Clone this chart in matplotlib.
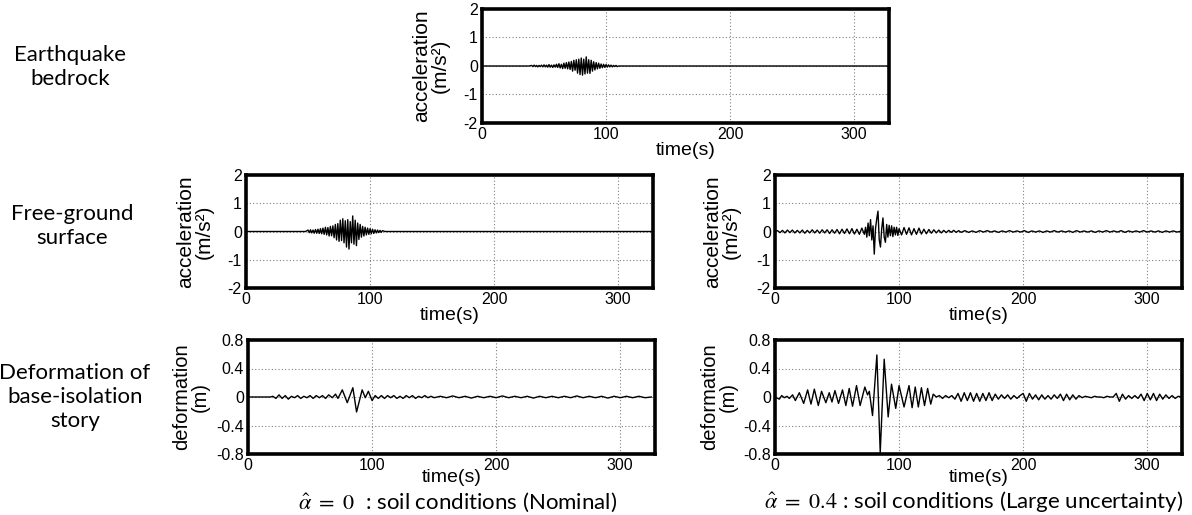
import matplotlib
matplotlib.use("Agg")
import matplotlib.pyplot as plt

plt.rcParams['font.family'] = ['Liberation Sans', 'DejaVu Sans']
plt.rcParams['axes.unicode_minus'] = False
plt.rcParams['mathtext.fontset'] = 'stix'

W, H = 1192, 515

# each signal: list of segments, (t0, dt, values) on a regular grid or (times, values)
bedrock_acc = [
    ([0, 38], [0.0, 0.0]),
    (40, 1.0, [0.02, -0.02, 0.03, -0.02, 0.02, -0.03, 0.02, -0.02, 0.03, -0.03,
               0.04, -0.03, 0.03, -0.04, 0.05, -0.04, 0.03, -0.05, 0.04, -0.04,
               0.06, -0.05, 0.08, -0.07, 0.06, -0.09, 0.10, -0.08, 0.12, -0.10,
               0.14, -0.12, 0.16, -0.18, 0.20, -0.15, 0.22, -0.25, 0.24, -0.30,
               0.28, -0.32, 0.24, -0.28, 0.32, -0.25, 0.22, -0.26, 0.20, -0.18,
               0.15, -0.14, 0.12, -0.10, 0.10, -0.08, 0.07, -0.06, 0.06, -0.05,
               0.05, -0.04, 0.04, -0.03, 0.03, -0.03, 0.02, -0.02, 0.02, -0.02]),
    ([110, 328], [0.0, 0.0]),
]

ground_acc_nominal = [
    ([0, 48], [0.0, 0.0]),
    (50, 1.0, [0.05, -0.04, 0.06, -0.05, 0.05, -0.06, 0.07, -0.06, 0.08, -0.07,
               0.10, -0.08, 0.12, -0.10, 0.15, -0.12, 0.14, -0.16, 0.18, -0.15,
               0.20, -0.22, 0.25, -0.30, 0.28, -0.35, 0.40, -0.32, 0.45, -0.40,
               0.38, -0.55, 0.42, -0.62, 0.35, -0.40, 0.55, -0.45, 0.40, -0.50,
               0.30, -0.28, 0.25, -0.20, 0.18, -0.16, 0.15, -0.12, 0.12, -0.10,
               0.10, -0.08, 0.08, -0.07, 0.06, -0.05, 0.05, -0.04, 0.04, -0.03, 0.03]),
    ([112, 328], [0.0, 0.0]),
]

ground_acc_large = [
    (0, 2.0, [0.0, 0.03, -0.04, 0.04, -0.05, 0.05, -0.04, 0.05, -0.05, 0.04,
              -0.05, 0.05, -0.06, 0.04, -0.05, 0.06, -0.05, 0.05, -0.06, 0.06,
              -0.05, 0.06, -0.07, 0.06, -0.06, 0.07, -0.08, 0.08, -0.07, 0.09,
              -0.08, 0.10, -0.09, 0.08, -0.10, 0.12]),
    (72, 1.0, [-0.10, 0.15, -0.20, 0.30, -0.15, 0.42, -0.30, 0.20, -0.80, 0.10,
               0.45, 0.72, -0.30, -0.55, 0.10, 0.48, -0.20, -0.38, 0.25, -0.20,
               0.22, -0.15, 0.20, -0.18, 0.15, -0.12, 0.15, -0.14, 0.10]),
    (102, 2.0, [-0.12, 0.14, -0.10, 0.13, -0.12, 0.10, -0.10, 0.12, -0.09, 0.08,
                -0.08, 0.07, -0.06, 0.06, -0.05, 0.05, -0.05, 0.04, -0.04, 0.04,
                -0.03, 0.04, -0.03, 0.03, -0.03]),
    (153, 3.0, [0.03, -0.03, 0.02, -0.03, 0.03, -0.02, 0.03, -0.02, 0.02, -0.03,
                0.02, -0.02, 0.03, -0.02, 0.02, -0.02, 0.03, -0.03, 0.02, -0.02,
                0.02, -0.03, 0.02, -0.02, 0.03, -0.02, 0.02, -0.02, 0.02, -0.03,
                0.03, -0.02, 0.02, -0.02, 0.02, -0.03, 0.02, -0.02, 0.03, -0.02,
                0.02, -0.02, 0.03, -0.03, 0.02, -0.02, 0.02, -0.02, 0.03, -0.02,
                0.02, -0.02, 0.02, -0.03, 0.02, -0.02, 0.02, -0.02, 0.01]),
]

deform_nominal = [
    ([0, 18], [0.0, 0.0]),
    (20, 2.5, [0.01, -0.02, 0.03, -0.02, 0.02, -0.03, 0.01, -0.01, 0.02, -0.02,
               0.01, -0.01, 0.02, -0.02, 0.02, -0.01, 0.02, -0.02, 0.03]),
    ([68, 70.5, 72.5, 76, 80, 84.5, 87.5, 92, 94.5, 97, 100, 102.5, 105],
     [-0.01, 0.04, -0.02, 0.10, -0.08, 0.13, -0.21, 0.10, -0.01, 0.08, -0.05, 0.02, -0.02]),
    (107.5, 2.5, [0.02, -0.02, 0.02, -0.01, 0.02, -0.02, 0.01, -0.02, 0.02, -0.01,
                  0.02, -0.02, 0.01, -0.01, 0.02, -0.01, 0.01, -0.01]),
    (155, 5.0, [0.01, -0.01, 0.015, -0.01, 0.01, -0.015, 0.01, -0.01, 0.01, -0.01,
                0.015, -0.01, 0.01, -0.01, 0.01, -0.015, 0.01, -0.01, 0.01, -0.01,
                0.01, -0.01, 0.015, -0.01, 0.01, -0.01, 0.01, -0.015, 0.01, -0.01,
                0.01, -0.01, 0.01, -0.01, 0.0]),
]

deform_large = [
    ([0, 3.5, 5.4, 7.5, 9.7, 11.5, 14.2, 16.4, 19.6, 23.1, 26.3, 29, 31.7, 34.9,
      37.5, 41, 43.7, 45.9, 48.3, 51.2, 54.4, 57.1, 59.8, 62.5, 65.7, 68.6, 72.4,
      74.6, 76.0, 78.6, 82.1, 84.8, 88, 91.2, 93.9, 97.3, 100, 104, 108, 110.5,
      113, 115.5, 118, 120.5, 123, 125.5, 127.5, 130],
     [0, -0.03, 0.02, -0.01, 0.01, -0.02, 0.03, -0.05, 0.06, -0.09, 0.10, -0.10,
      0.11, -0.12, 0.08, -0.08, 0.06, -0.07, 0.09, -0.09, 0.10, -0.12, 0.12, -0.13,
      0.16, -0.12, 0.14, 0.03, 0.08, -0.26, 0.59, -0.78, 0.53, -0.28, 0.18, -0.16,
      0.16, -0.14, 0.16, -0.15, 0.14, -0.14, 0.13, -0.12, 0.12, -0.10, 0.04, 0.0]),
    (132.5, 2.5, [0.02, -0.02, 0.02, -0.01, 0.02, -0.03,
                  0.05, -0.06, 0.06, -0.05, 0.06, -0.06, 0.05, -0.06, 0.05, -0.05, 0.06, -0.05, 0.04,
                  -0.03, 0.03, -0.02, 0.03, -0.03, 0.02, -0.02, 0.02]),
    (200, 2.5, [0.05, -0.06, 0.05,
                -0.03, 0.03, -0.04, 0.03, -0.03, 0.02, -0.03, 0.03, -0.02,
                0.04, -0.05, 0.04, -0.04, 0.03, -0.03, 0.02,
                -0.01, 0.01, 0.0, -0.01, 0.01, 0.0, 0.0, -0.01, 0.01, 0.0, 0.0,
                0.05, -0.06, 0.04, -0.03,
                0.02, -0.02, 0.02, -0.02,
                0.04, -0.05, 0.05, -0.04, 0.05, -0.05, 0.04, -0.03, 0.03,
                -0.02, 0.02, -0.02, 0.01, 0.0]),
]

acc_ticks = [-2, -1, 0, 1, 2]
def_ticks = [-0.8, -0.4, 0, 0.4, 0.8]
def_ticklabels = ['-0.8', '-0.4', '0', '0.4', '0.8']
time_ticks = [0, 100, 200, 300]
t_end = 328

row_labels = ['Earthquake\nbedrock', 'Free-ground\nsurface',
              'Deformation of\nbase-isolation\nstory']
captions = [r'$\hat{\alpha}\ =\ 0$  : soil conditions (Nominal)',
            r'$\hat{\alpha}\ =\ 0.4$ : soil conditions (Large uncertainty)']


def build(segs):
    t, v = [], []
    for seg in segs:
        if len(seg) == 3:
            t0, dt, vals = seg
            t += [t0 + dt * i for i in range(len(vals))]
        else:
            t += list(seg[0])
            vals = seg[1]
        v += list(vals)
    return t, v


fig = plt.figure(figsize=(W / 100, H / 100), dpi=100)


def px_axes(l, t, r, b):
    return fig.add_axes([l / W, 1 - b / H, (r - l) / W, (b - t) / H])


def panel(box, segs, kind, ylab_x, ylab_size=15, xpad=0):
    ax = px_axes(*box)
    t, v = build(segs)
    ax.plot(t, v, color='black', lw=1.0, solid_joinstyle='round')
    ax.set_xlim(0, t_end)
    ax.set_xticks(time_ticks)
    if kind == 'acc':
        ax.set_ylim(-2, 2)
        ax.set_yticks(acc_ticks)
        lab = 'acceleration\n(m/s²)'
    else:
        ax.set_ylim(-0.8, 0.8)
        ax.set_yticks(def_ticks)
        ax.set_yticklabels(def_ticklabels)
        lab = 'deformation\n(m)'
    ax.grid(True, color='0.5', linestyle=(0, (1, 2)), linewidth=0.8)
    for s in ax.spines.values():
        s.set_linewidth(2.6)
    ax.tick_params(length=0, labelsize=11.5, pad=3)
    ax.set_xlabel('time(s)', fontsize=14, labelpad=xpad)
    yc = (box[1] + box[3]) / 2
    fig.text(ylab_x / W, 1 - yc / H, lab, rotation=90, ha='center', va='center',
             fontsize=ylab_size, linespacing=1.0)
    return ax


panel((482, 9, 889, 123), bedrock_acc, 'acc', 431)
panel((246, 175, 653, 288), ground_acc_nominal, 'acc', 195)
panel((775, 175, 1182, 288), ground_acc_large, 'acc', 722)
panel((248, 340, 655, 454), deform_nominal, 'def', 191, 14.5, -3)
panel((775, 340, 1182, 454), deform_large, 'def', 719, 14.5, -3)

row_y = [67, 226, 397]
row_x = [70, 72, 75]
for lab, x, y in zip(row_labels, row_x, row_y):
    fig.text(x / W, 1 - y / H, lab, ha='center', va='center', fontsize=16,
             family='Lato', linespacing=1.25)

fig.text(458 / W, 1 - 502 / H, captions[0], ha='center', va='center', fontsize=16, family='Lato')
fig.text(974 / W, 1 - 502 / H, captions[1], ha='center', va='center', fontsize=16, family='Lato')

fig.savefig('out.png', dpi=100)
